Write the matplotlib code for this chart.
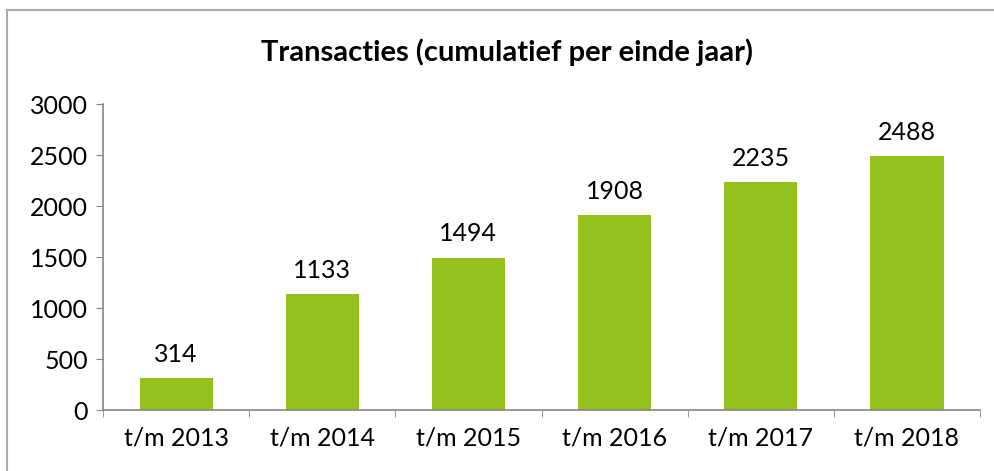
import matplotlib.pyplot as plt
from matplotlib.patches import Rectangle

categories = ['t/m 2013', 't/m 2014', 't/m 2015', 't/m 2016', 't/m 2017', 't/m 2018']
values = [314, 1133, 1494, 1908, 2235, 2488]
yticks = [0, 500, 1000, 1500, 2000, 2500, 3000]

plt.rcParams['font.family'] = ['Lato', 'DejaVu Sans']

fig = plt.figure(figsize=(9.95, 4.71), dpi=100)
ax = fig.add_axes([0.1035, 0.1295, 0.8815, 0.6495])

# chart border (only top and left visible in the reference)
fig.patches.append(Rectangle((0.007, -0.1), 1.2, 1.079, transform=fig.transFigure,
                             fill=False, edgecolor='#ababab', linewidth=1.5))

x = range(len(categories))
bars = ax.bar(x, values, width=0.5, color='#95c11f')
for i, v in enumerate(values):
    ax.text(i, v + 120, str(v), ha='center', va='bottom', fontsize=18, color='black')

ax.set_xlim(-0.5, len(categories) - 0.5)
ax.set_ylim(0, 3000)
ax.set_yticks(yticks)
ax.set_yticklabels([str(t) for t in yticks], fontsize=18)
ax.set_xticks(list(x))
ax.set_xticklabels(categories, fontsize=18)
ax.tick_params(axis='x', length=0, pad=12)
ax.tick_params(axis='y', length=5, color='#868686', pad=6)
# category boundary ticks
ax.set_xticks([i - 0.5 for i in range(len(categories) + 1)], minor=True)
ax.tick_params(axis='x', which='minor', length=5, color='#868686')

for s in ['top', 'right']:
    ax.spines[s].set_visible(False)
for s in ['left', 'bottom']:
    ax.spines[s].set_color('#868686')
    ax.spines[s].set_linewidth(1.2)

fig.text(0.51, 0.89, 'Transacties (cumulatief per einde jaar)', ha='center', va='center',
         fontsize=21, fontweight='bold')

fig.savefig('out.png', dpi=100)
